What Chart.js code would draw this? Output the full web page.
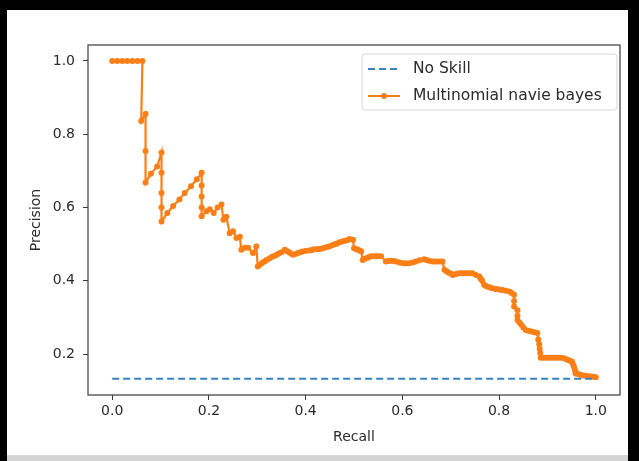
<!DOCTYPE html>
<html lang="en">
<head>
    <meta charset="UTF-8">
    <title>Precision-Recall</title>
    <script src="https://cdn.jsdelivr.net/npm/chart.js@4"></script>
    <style>
        body { margin: 0; background: #fff; }
    </style>
</head>
<body>
    <canvas id="myChart" width="639" height="461"></canvas>
<script>
    // values
    const recallValues = [
        0, 0.0104, 0.0208, 0.0312, 0.0417, 0.0521, 0.0625,
        0.06, 0.069, 0.069, 0.069, 0.08, 0.093, 0.102,
        0.102, 0.102, 0.102, 0.102,
        0.114, 0.126, 0.139, 0.15, 0.163, 0.175, 0.185,
        0.185, 0.185, 0.185, 0.185,
        0.195, 0.202, 0.21, 0.218, 0.226, 0.23, 0.236, 0.243, 0.25, 0.257, 0.264,
        0.267, 0.274, 0.281, 0.291, 0.298, 0.301, 0.305, 0.31, 0.315, 0.319, 0.325, 0.33, 0.335, 0.34,
        0.345, 0.35, 0.357, 0.362, 0.366, 0.37, 0.374, 0.379, 0.384, 0.389, 0.394, 0.401, 0.408, 0.413, 0.418, 0.424, 0.429, 0.434, 0.439,
        0.444, 0.449, 0.455, 0.46, 0.465, 0.47, 0.475, 0.48, 0.486, 0.491, 0.498, 0.5, 0.504, 0.508, 0.512, 0.515, 0.518,
        0.522, 0.527, 0.531, 0.535, 0.541, 0.546, 0.551, 0.556, 0.566, 0.571, 0.576, 0.582, 0.587, 0.594, 0.601, 0.607, 0.614, 0.621, 0.628,
        0.636, 0.645, 0.65, 0.655, 0.662, 0.667, 0.672, 0.678, 0.683, 0.687, 0.691, 0.695, 0.7, 0.704, 0.709, 0.714, 0.719, 0.724,
        0.73, 0.735, 0.74, 0.745, 0.752, 0.759, 0.762, 0.765, 0.769, 0.773, 0.777, 0.781, 0.786, 0.792, 0.797, 0.802, 0.807, 0.814, 0.821, 0.826,
        0.831, 0.831, 0.831, 0.838, 0.838, 0.838, 0.842, 0.846, 0.85, 0.855, 0.861, 0.867, 0.873, 0.879, 0.881, 0.883, 0.884, 0.885,
        0.886, 0.892, 0.898, 0.904, 0.91, 0.916, 0.922, 0.928, 0.934, 0.939, 0.944, 0.948, 0.951, 0.953, 0.955, 0.957, 0.958, 0.963, 0.968, 0.973,
        0.979, 0.985, 0.99, 0.995, 1.0
    ]
    const precisionValues = [
        1, 1, 1, 1, 1, 1, 1,
        0.836, 0.855, 0.754, 0.668, 0.692, 0.712, 0.75,
        0.695, 0.64, 0.6, 0.562,
        0.585, 0.604, 0.622, 0.64, 0.658, 0.677, 0.695,
        0.66, 0.63, 0.6, 0.576,
        0.59, 0.595, 0.585, 0.6, 0.608, 0.567, 0.575, 0.53, 0.535, 0.517, 0.52,
        0.485, 0.49, 0.49, 0.476, 0.494, 0.439, 0.444, 0.449, 0.453, 0.457, 0.461, 0.465, 0.468, 0.471,
        0.475, 0.478, 0.485, 0.481, 0.478, 0.474, 0.471, 0.473, 0.476, 0.478, 0.48, 0.482, 0.483, 0.484, 0.486, 0.486, 0.487, 0.488, 0.49,
        0.492, 0.494, 0.497, 0.5, 0.502, 0.505, 0.507, 0.509, 0.511, 0.514, 0.512, 0.489, 0.487, 0.485, 0.483, 0.48, 0.457,
        0.46, 0.462, 0.465, 0.467, 0.467, 0.467, 0.467, 0.467, 0.453, 0.454, 0.455, 0.454, 0.453, 0.45, 0.448, 0.448, 0.448, 0.45, 0.453,
        0.456, 0.459, 0.457, 0.455, 0.453, 0.453, 0.453, 0.453, 0.453, 0.43, 0.426, 0.423, 0.42, 0.416, 0.418, 0.42, 0.421, 0.421,
        0.421, 0.421, 0.421, 0.421, 0.416, 0.412, 0.406, 0.4, 0.389, 0.386, 0.384, 0.382, 0.38, 0.378, 0.377, 0.376, 0.375, 0.373, 0.371, 0.367,
        0.362, 0.345, 0.33, 0.32, 0.305, 0.293, 0.286, 0.28, 0.273, 0.266, 0.264, 0.262, 0.26, 0.258, 0.24, 0.227, 0.215, 0.203,
        0.19, 0.19, 0.19, 0.19, 0.19, 0.19, 0.19, 0.19, 0.189, 0.186, 0.183, 0.181, 0.179, 0.172, 0.165, 0.156, 0.147, 0.146, 0.144, 0.142,
        0.141, 0.14, 0.139, 0.138, 0.137
    ]
    const noSkillRecall = [0, 1]
    const noSkillPrecision = [0.133, 0.133]
    const xTicks = [0, 0.2, 0.4, 0.6, 0.8, 1.0]
    const yTicks = [0.2, 0.4, 0.6, 0.8, 1.0]
    const seriesNames = ['No Skill', 'Multinomial navie bayes']

    const blue = '#3483c2'
    const orange = '#fb7f16'
    const textColor = '#2a2a2a'
    const font = { family: 'DejaVu Sans', size: 14 }

    const toPoints = (xs, ys) => xs.map((x, i) => ({ x, y: ys[i] }))

    const backdrop = {
        id: 'backdrop',
        beforeDraw(chart) {
            const ctx = chart.ctx
            ctx.save()
            ctx.fillStyle = '#fff'
            ctx.fillRect(0, 0, chart.width, chart.height)
            ctx.fillStyle = '#000'
            ctx.fillRect(0, 0, chart.width, 10)
            ctx.fillRect(0, 0, 7, chart.height)
            ctx.fillRect(628, 0, chart.width - 628, chart.height)
            ctx.fillStyle = '#d4d4d4'
            ctx.fillRect(7, 455, 621, chart.height - 455)
            ctx.restore()
        }
    }

    const frame = {
        id: 'frame',
        afterDatasetsDraw(chart) {
            const { ctx, chartArea: a } = chart
            ctx.save()
            ctx.strokeStyle = '#3a3a3a'
            ctx.lineWidth = 1.2
            ctx.strokeRect(a.left, a.top, a.right - a.left, a.bottom - a.top)
            ctx.restore()
        }
    }

    const boxLegend = {
        id: 'boxLegend',
        afterDraw(chart) {
            const { ctx, chartArea: a } = chart
            const x = a.right - 258, y = a.top + 9, w = 255, h = 56
            ctx.save()
            ctx.beginPath()
            ctx.roundRect(x, y, w, h, 3)
            ctx.fillStyle = 'rgba(255,255,255,0.85)'
            ctx.fill()
            ctx.strokeStyle = '#d6d6d6'
            ctx.lineWidth = 1
            ctx.stroke()

            const rows = [y + 15, y + 42]
            // dashed sample
            ctx.strokeStyle = blue
            ctx.lineWidth = 2
            ctx.setLineDash([7, 4])
            ctx.beginPath()
            ctx.moveTo(x + 6, rows[0])
            ctx.lineTo(x + 38, rows[0])
            ctx.stroke()
            ctx.setLineDash([])
            // line + marker sample
            ctx.strokeStyle = orange
            ctx.lineWidth = 2
            ctx.beginPath()
            ctx.moveTo(x + 6, rows[1])
            ctx.lineTo(x + 38, rows[1])
            ctx.stroke()
            ctx.fillStyle = orange
            ctx.beginPath()
            ctx.arc(x + 22, rows[1], 3, 0, Math.PI * 2)
            ctx.fill()

            ctx.fillStyle = textColor
            ctx.font = '15.5px "DejaVu Sans"'
            ctx.textBaseline = 'middle'
            ctx.fillText(seriesNames[0], x + 51, rows[0])
            ctx.fillText(seriesNames[1], x + 51, rows[1])
            ctx.restore()
        }
    }

    const chart = new Chart(
        document.getElementById('myChart'),
        {
            type: 'scatter',
            data: {
                datasets: [{
                    label: seriesNames[0],
                    data: toPoints(noSkillRecall, noSkillPrecision),
                    showLine: true,
                    borderColor: blue,
                    borderWidth: 2,
                    borderDash: [7, 4],
                    pointRadius: 0
                }, {
                    label: seriesNames[1],
                    data: toPoints(recallValues, precisionValues),
                    showLine: true,
                    borderColor: orange,
                    borderWidth: 2.2,
                    pointRadius: 3,
                    pointBorderWidth: 0,
                    pointBackgroundColor: orange,
                    pointHoverRadius: 0
                }]
            },
            options: {
                responsive: false,
                animation: false,
                events: [],
                layout: { padding: { left: 0, top: 45, right: 19, bottom: 0 } },
                plugins: {
                    legend: { display: false },
                    tooltip: { enabled: false }
                },
                scales: {
                    x: {
                        type: 'linear',
                        min: -0.05,
                        max: 1.05,
                        afterFit: (s) => { s.height = 66 },
                        afterBuildTicks: (s) => { s.ticks = xTicks.map(v => ({ value: v })) },
                        grid: { drawOnChartArea: false, tickLength: 5, color: '#3a3a3a', tickWidth: 1 },
                        border: { display: false },
                        ticks: { font, color: textColor, padding: 3, maxRotation: 0, callback: v => v.toFixed(1) },
                        title: { display: true, text: 'Recall', font, color: textColor, padding: { top: 0, bottom: 15 } }
                    },
                    y: {
                        type: 'linear',
                        min: 0.0885,
                        max: 1.0435,
                        afterFit: (s) => { s.width = 88 },
                        afterBuildTicks: (s) => { s.ticks = yTicks.map(v => ({ value: v })) },
                        grid: { drawOnChartArea: false, tickLength: 5, color: '#3a3a3a', tickWidth: 1 },
                        border: { display: false },
                        ticks: { font, color: textColor, padding: 8, callback: v => v.toFixed(1) },
                        title: { display: true, text: 'Precision', font, color: textColor, padding: { top: 28, bottom: 0 } }
                    }
                }
            },
            plugins: [backdrop, frame, boxLegend]
        })
</script>
</body>
</html>
